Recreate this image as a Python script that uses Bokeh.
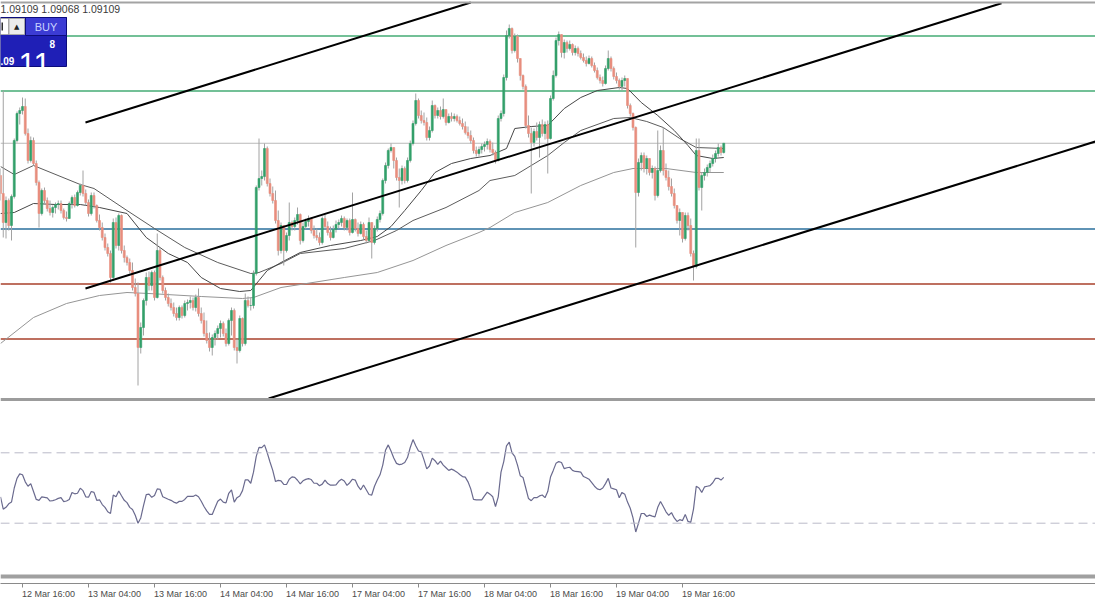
from bokeh.plotting import figure
from bokeh.models import Range1d, Span, Label, FixedTicker, ColumnDataSource, LinearAxis
from bokeh.embed import file_html
from bokeh.resources import INLINE

# ---------------- data (EURUSD M30, bar index 0 = 12 Mar 04:00) ----------------
first_bar = 16
first_open = 1.08980

closes = [
1.08908, 1.08792, 1.08880, 1.08780, 1.08896, 1.09120, 1.09228, 1.09240, 1.09256, 1.09148,
1.09040, 1.09120, 1.09028, 1.08952, 1.08828, 1.08920, 1.08880, 1.08848, 1.08832, 1.08852,
1.08864, 1.08868, 1.08840, 1.08812, 1.08808, 1.08868, 1.08892, 1.08860, 1.08912, 1.08940,
1.08908, 1.08872, 1.08828, 1.08900, 1.08860, 1.08800, 1.08772, 1.08732, 1.08692, 1.08668,
1.08572, 1.08792, 1.08700, 1.08820, 1.08680, 1.08652, 1.08632, 1.08600, 1.08532, 1.08508,
1.08292, 1.08372, 1.08480, 1.08572, 1.08540, 1.08592, 1.08492, 1.08680, 1.08572, 1.08520,
1.08492, 1.08468, 1.08452, 1.08428, 1.08412, 1.08452, 1.08420, 1.08468, 1.08472, 1.08480,
1.08452, 1.08492, 1.08428, 1.08400, 1.08348, 1.08320, 1.08292, 1.08332, 1.08348, 1.08368,
1.08388, 1.08348, 1.08308, 1.08400, 1.08440, 1.08292, 1.08280, 1.08408, 1.08308, 1.08480,
1.08460, 1.08460, 1.08588, 1.08932, 1.08968, 1.08976, 1.09088, 1.08948, 1.08908, 1.08880,
1.08800, 1.08680, 1.08780, 1.08680, 1.08740, 1.08792, 1.08776, 1.08800, 1.08824, 1.08720,
1.08776, 1.08796, 1.08808, 1.08760, 1.08740, 1.08732, 1.08712, 1.08808, 1.08776, 1.08752,
1.08732, 1.08764, 1.08784, 1.08792, 1.08808, 1.08772, 1.08800, 1.08752, 1.08804, 1.08768,
1.08748, 1.08784, 1.08736, 1.08720, 1.08792, 1.08712, 1.08768, 1.08804, 1.08828, 1.08960,
1.09020, 1.09080, 1.09092, 1.09040, 1.08972, 1.08960, 1.09008, 1.08960, 1.09040, 1.09108,
1.09188, 1.09280, 1.09220, 1.09200, 1.09192, 1.09132, 1.09160, 1.09260, 1.09220, 1.09240,
1.09216, 1.09244, 1.09192, 1.09216, 1.09208, 1.09216, 1.09200, 1.09188, 1.09176, 1.09152,
1.09140, 1.09120, 1.09080, 1.09068, 1.09084, 1.09096, 1.09104, 1.09116, 1.09084, 1.09072,
1.09040, 1.09208, 1.09228, 1.09372, 1.09540, 1.09568, 1.09480, 1.09536, 1.09448, 1.09380,
1.09336, 1.09180, 1.09148, 1.09112, 1.09156, 1.09132, 1.09184, 1.09148, 1.09184, 1.09128,
1.09288, 1.09380, 1.09520, 1.09544, 1.09472, 1.09512, 1.09488, 1.09504, 1.09472, 1.09488,
1.09468, 1.09452, 1.09440, 1.09428, 1.09448, 1.09420, 1.09400, 1.09372, 1.09360, 1.09348,
1.09408, 1.09448, 1.09408, 1.09376, 1.09360, 1.09336, 1.09360, 1.09368, 1.09260, 1.09228,
1.09172, 1.08912, 1.09032, 1.09060, 1.09008, 1.09048, 1.08992, 1.09008, 1.08900, 1.09000,
1.09080, 1.09000, 1.08972, 1.08936, 1.08908, 1.08860, 1.08800, 1.08832, 1.08728, 1.08820,
1.08780, 1.08668, 1.08616, 1.09080, 1.08932, 1.08980, 1.08992, 1.09012, 1.09028, 1.09048,
1.09068, 1.09092, 1.09072, 1.09109]

highs = [
1.09008, 1.09320, 1.08896, 1.08888, 1.08904, 1.09128, 1.09236, 1.09252, 1.09292, 1.09288,
1.09168, 1.09136, 1.09132, 1.09040, 1.08960, 1.08928, 1.08932, 1.08892, 1.08880, 1.08860,
1.08872, 1.08880, 1.08880, 1.08848, 1.08836, 1.08876, 1.08900, 1.08904, 1.08920, 1.08948,
1.09000, 1.08924, 1.08884, 1.08912, 1.08912, 1.08864, 1.08824, 1.08792, 1.08748, 1.08708,
1.08680, 1.08808, 1.08812, 1.08828, 1.08824, 1.08700, 1.08660, 1.08648, 1.08632, 1.08568,
1.08552, 1.08392, 1.08488, 1.08592, 1.08596, 1.08600, 1.08600, 1.08748, 1.08692, 1.08580,
1.08532, 1.08508, 1.08488, 1.08472, 1.08452, 1.08460, 1.08460, 1.08480, 1.08484, 1.08496,
1.08492, 1.08504, 1.08528, 1.08452, 1.08432, 1.08400, 1.08352, 1.08344, 1.08360, 1.08380,
1.08400, 1.08396, 1.08368, 1.08408, 1.08452, 1.08448, 1.08328, 1.08420, 1.08412, 1.08508,
1.08496, 1.08492, 1.08600, 1.08940, 1.09128, 1.09000, 1.09108, 1.09096, 1.08968, 1.08936,
1.08920, 1.08840, 1.08792, 1.08780, 1.08752, 1.08872, 1.08800, 1.08812, 1.08852, 1.08828,
1.08792, 1.08808, 1.08820, 1.08812, 1.08780, 1.08768, 1.08752, 1.08816, 1.08824, 1.08796,
1.08776, 1.08780, 1.08800, 1.08804, 1.08820, 1.08816, 1.08808, 1.08808, 1.08912, 1.08808,
1.08792, 1.08796, 1.08792, 1.08760, 1.08812, 1.08792, 1.08780, 1.08816, 1.08840, 1.08968,
1.09032, 1.09088, 1.09108, 1.09092, 1.09052, 1.09008, 1.09020, 1.09016, 1.09052, 1.09120,
1.09200, 1.09308, 1.09288, 1.09240, 1.09232, 1.09212, 1.09176, 1.09280, 1.09264, 1.09252,
1.09256, 1.09288, 1.09240, 1.09228, 1.09232, 1.09228, 1.09224, 1.09216, 1.09208, 1.09196,
1.09176, 1.09160, 1.09132, 1.09096, 1.09096, 1.09108, 1.09116, 1.09128, 1.09124, 1.09112,
1.09080, 1.09220, 1.09240, 1.09384, 1.09560, 1.09584, 1.09572, 1.09548, 1.09544, 1.09448,
1.09384, 1.09344, 1.09220, 1.09172, 1.09168, 1.09192, 1.09196, 1.09204, 1.09196, 1.09200,
1.09300, 1.09400, 1.09532, 1.09556, 1.09544, 1.09524, 1.09520, 1.09520, 1.09508, 1.09500,
1.09496, 1.09480, 1.09468, 1.09456, 1.09460, 1.09456, 1.09432, 1.09412, 1.09384, 1.09376,
1.09420, 1.09480, 1.09456, 1.09416, 1.09392, 1.09368, 1.09372, 1.09380, 1.09368, 1.09268,
1.09232, 1.09176, 1.09048, 1.09072, 1.09072, 1.09060, 1.09048, 1.09020, 1.09016, 1.09160,
1.09100, 1.09172, 1.09028, 1.09000, 1.08968, 1.08928, 1.08860, 1.08848, 1.08832, 1.08832,
1.08832, 1.08808, 1.08680, 1.09128, 1.09128, 1.08992, 1.09008, 1.09024, 1.09040, 1.09064,
1.09080, 1.09108, 1.09100, 1.09109]

lows = [
1.08880, 1.08732, 1.08728, 1.08760, 1.08720, 1.08888, 1.09112, 1.09184, 1.09224, 1.09140,
1.09028, 1.09032, 1.09020, 1.08940, 1.08772, 1.08820, 1.08868, 1.08836, 1.08820, 1.08812,
1.08828, 1.08844, 1.08828, 1.08804, 1.08796, 1.08808, 1.08848, 1.08852, 1.08856, 1.08900,
1.08896, 1.08860, 1.08816, 1.08820, 1.08848, 1.08792, 1.08760, 1.08720, 1.08680, 1.08656,
1.08552, 1.08560, 1.08688, 1.08680, 1.08668, 1.08632, 1.08620, 1.08588, 1.08520, 1.08496,
1.08140, 1.08268, 1.08340, 1.08460, 1.08520, 1.08520, 1.08480, 1.08488, 1.08560, 1.08508,
1.08480, 1.08456, 1.08440, 1.08416, 1.08400, 1.08400, 1.08408, 1.08412, 1.08440, 1.08448,
1.08440, 1.08436, 1.08416, 1.08388, 1.08336, 1.08308, 1.08276, 1.08260, 1.08300, 1.08324,
1.08332, 1.08336, 1.08296, 1.08300, 1.08340, 1.08280, 1.08228, 1.08272, 1.08296, 1.08300,
1.08452, 1.08440, 1.08448, 1.08580, 1.08920, 1.08940, 1.08960, 1.08936, 1.08896, 1.08868,
1.08788, 1.08660, 1.08668, 1.08620, 1.08672, 1.08720, 1.08760, 1.08760, 1.08784, 1.08704,
1.08712, 1.08764, 1.08776, 1.08748, 1.08728, 1.08720, 1.08700, 1.08704, 1.08764, 1.08740,
1.08720, 1.08728, 1.08752, 1.08768, 1.08776, 1.08760, 1.08760, 1.08740, 1.08748, 1.08756,
1.08736, 1.08744, 1.08724, 1.08708, 1.08716, 1.08648, 1.08704, 1.08756, 1.08792, 1.08820,
1.08948, 1.09008, 1.09072, 1.09008, 1.08960, 1.08852, 1.08944, 1.08948, 1.08952, 1.09032,
1.09100, 1.09180, 1.09208, 1.09188, 1.09180, 1.09120, 1.09120, 1.09152, 1.09208, 1.09208,
1.09204, 1.09208, 1.09180, 1.09188, 1.09196, 1.09196, 1.09192, 1.09180, 1.09164, 1.09144,
1.09128, 1.09108, 1.09068, 1.09056, 1.09056, 1.09068, 1.09076, 1.09084, 1.09072, 1.09060,
1.09028, 1.09036, 1.09196, 1.09216, 1.09360, 1.09528, 1.09468, 1.09472, 1.09432, 1.09360,
1.09324, 1.09168, 1.09132, 1.08908, 1.09096, 1.09120, 1.09052, 1.09136, 1.09124, 1.08988,
1.09124, 1.09280, 1.09372, 1.09500, 1.09452, 1.09448, 1.09472, 1.09480, 1.09460, 1.09460,
1.09456, 1.09444, 1.09432, 1.09416, 1.09424, 1.09412, 1.09392, 1.09364, 1.09348, 1.09336,
1.09344, 1.09400, 1.09396, 1.09364, 1.09348, 1.09324, 1.09320, 1.09336, 1.09248, 1.09216,
1.09160, 1.08692, 1.08896, 1.09000, 1.08992, 1.08984, 1.08980, 1.08968, 1.08880, 1.08892,
1.08992, 1.08980, 1.08960, 1.08920, 1.08896, 1.08848, 1.08788, 1.08740, 1.08712, 1.08720,
1.08760, 1.08656, 1.08560, 1.08608, 1.08920, 1.08840, 1.08960, 1.08976, 1.08992, 1.09016,
1.09032, 1.09056, 1.09060, 1.09068]

rsi = [
45, 38, 39, 41, 42, 50, 55.5, 58, 57.5, 53.5,
51, 52.5, 48, 43.5, 43, 45, 44.7, 44.4, 42.6, 42.8,
43.3, 44.1, 44.5, 42.3, 42.6, 43.5, 47.4, 46.7, 47, 49.9,
48.5, 45, 44.8, 48, 47.5, 43, 43.3, 40.6, 39, 36.5,
35.5, 46, 45, 48.3, 45.6, 43, 41.7, 39, 37.8, 34.5,
30, 33, 40, 46.2, 46.5, 44.7, 45.7, 49.5, 49.3, 45,
44.3, 43.6, 43, 42, 41.4, 42.4, 42.4, 43.5, 45.2, 45.2,
45.2, 46, 45, 42.5, 39.5, 37, 35, 35, 38.8, 42.5,
43.7, 42, 41.5, 47, 49, 42, 44.5, 45.5, 48.5, 54.6,
54.6, 52.7, 59, 68, 73.1, 72.9, 74.5, 70, 64.8, 60,
53.7, 54.3, 54, 52, 52, 55, 56.3, 56, 54.4, 52.3,
54.1, 54.9, 55.3, 54.8, 52.7, 52.7, 51.3, 52.2, 54.5, 52.5,
51.6, 51.6, 51.8, 53.8, 55, 54, 51.5, 53, 55, 54.5,
51, 49, 51.7, 49, 46.3, 46, 51, 54.5, 57.5, 63,
71.4, 74.5, 71, 67, 64, 63.3, 63.6, 64.5, 67.3, 73,
77.5, 74, 71, 70.5, 66, 60.9, 62.5, 67, 65.5, 63.4,
65.3, 63, 61.5, 60, 60.7, 60, 59, 57.7, 56.5, 56.2,
53.5, 49.5, 43.5, 43.3, 43.3, 43.3, 45.5, 47.6, 46.5, 45,
39.5, 45, 59, 65, 74, 76, 70, 68, 63, 57,
56, 50, 44, 42.8, 44.5, 44.5, 45.5, 46, 44.5, 48,
56.2, 60, 64, 65, 64.5, 61, 61.5, 61.8, 60, 59.4,
59.3, 59, 56.5, 55.8, 55, 53, 51, 49.5, 49, 50,
52.5, 55.5, 50, 49.5, 49, 44.5, 47.5, 46.5, 42, 38.5,
33, 25, 30, 35.5, 35.5, 33.8, 34.6, 34, 33.6, 39,
42.3, 39.5, 36.5, 34.5, 36, 33, 31, 32, 31.5, 35,
31, 30.5, 38, 51, 50, 47.5, 50.6, 51, 51.3, 53,
55.5, 55.5, 54.5, 56]

ma_fast_bars = [16, 21, 28, 36, 45, 52, 62, 69, 77, 84, 89, 96, 103, 107, 110, 113, 118, 125,
                136, 147, 153, 158, 163, 169, 174, 180, 187, 194, 200, 203, 209, 215, 221, 227,
                233, 241, 244, 249, 255, 261, 266, 269, 275, 279]
ma_fast = [1.08828, 1.08832, 1.08868, 1.08864, 1.08864, 1.08852, 1.08828, 1.08732, 1.08668,
           1.08632, 1.08572, 1.08528, 1.08516, 1.08520, 1.08560, 1.08600, 1.08632, 1.08672,
           1.08700, 1.08720, 1.08736, 1.08776, 1.08840, 1.08920, 1.08992, 1.09028, 1.09048,
           1.09060, 1.09088, 1.09168, 1.09176, 1.09180, 1.09248, 1.09292, 1.09320, 1.09332,
           1.09328, 1.09272, 1.09220, 1.09160, 1.09100, 1.09060, 1.09048, 1.09052]

ma_mid_bars = [16, 21, 28, 45, 50, 62, 72, 83, 95, 107, 110, 118, 125, 141, 152, 160, 166,
               178, 190, 194, 203, 215, 221, 227, 239, 245, 251, 257, 263, 269, 279]
ma_mid = [1.09016, 1.08984, 1.09020, 1.08944, 1.08928, 1.08840, 1.08768, 1.08692, 1.08632,
          1.08588, 1.08592, 1.08628, 1.08668, 1.08688, 1.08720, 1.08760, 1.08800, 1.08852,
          1.08920, 1.08960, 1.08980, 1.09060, 1.09112, 1.09160, 1.09208, 1.09212, 1.09196,
          1.09172, 1.09128, 1.09092, 1.09088]

ma_slow_bars = [16, 28, 40, 52, 62, 70, 89, 104, 108, 118, 125, 141, 153, 166, 178, 190, 194,
                203, 215, 227, 239, 246, 258, 269, 279]
ma_slow = [1.08308, 1.08412, 1.08468, 1.08500, 1.08512, 1.08508, 1.08496, 1.08488, 1.08492,
           1.08532, 1.08544, 1.08572, 1.08592, 1.08640, 1.08700, 1.08752, 1.08772, 1.08832,
           1.08872, 1.08940, 1.08992, 1.09008, 1.09008, 1.08992, 1.08992]

# channel trend lines (bar, price)
tl_upper_bars, tl_upper = [46.9, 187.0], [1.09192, 1.09672]
tl_mid_bars, tl_mid = [46.9, 380.0], [1.08528, 1.09669]
tl_low_bars, tl_low = [113.5, 414.2], [1.08088, 1.09116]

# horizontal levels
green_levels = [1.09538, 1.09318]
bid_price = 1.09109
blue_levels = [1.08766]
red_levels = [1.08546, 1.08326]
rsi_levels = [70, 30]

tick_bars = [24, 48, 72, 96, 120, 144, 168, 192, 216, 240, 264]
tick_labels = ["12 Mar 16:00", "13 Mar 04:00", "13 Mar 16:00", "14 Mar 04:00", "14 Mar 16:00",
               "17 Mar 04:00", "17 Mar 16:00", "18 Mar 04:00", "18 Mar 16:00", "19 Mar 04:00",
               "19 Mar 16:00"]

header_text = "1.09109 1.09068 1.09109"

# ---------------- figure ----------------
n = min(len(closes), len(highs), len(lows), len(rsi))
closes, highs, lows, rsi = closes[:n], highs[:n], lows[:n], rsi[:n]
bars = list(range(first_bar, first_bar + n))
opens = [first_open] + closes[:-1]

UP, DOWN = "#33a06a", "#e88e7e"
src = ColumnDataSource(dict(
    bar=bars, high=highs, low=lows,
    top=[max(o, c) for o, c in zip(opens, closes)],
    bottom=[min(o, c) for o, c in zip(opens, closes)],
    color=[UP if c >= o else DOWN for o, c in zip(opens, closes)],
))

p = figure(frame_width=1095, frame_height=583,
           x_range=Range1d(16, 414.1818), y_range=Range1d(1.07348, 1.0968),
           output_backend="svg", toolbar_location=None,
           x_axis_location=None, y_axis_location=None,
           min_border=0, min_border_left=0, min_border_right=0, min_border_top=0,
           min_border_bottom=0,
           background_fill_color="white", border_fill_color="white",
           outline_line_color=None)
p.extra_y_ranges = {"rsi": Range1d(-4.2614, 326.99)}
p.grid.visible = False

# time axis: tick marks at the bar, label starting at the tick (MT4 style)
tick_axis = LinearAxis(ticker=FixedTicker(ticks=tick_bars, minor_ticks=[]),
                       major_label_text_font_size="1px", major_label_text_alpha=0,
                       major_label_standoff=0, major_tick_out=4, major_tick_in=0,
                       axis_line_color="#8a8a8a", major_tick_line_color="#8a8a8a",
                       minor_tick_line_color=None)
label_shift = 9.5  # half a label width, in bars
label_ticks = [b + label_shift for b in tick_bars]
label_axis = LinearAxis(ticker=FixedTicker(ticks=label_ticks, minor_ticks=[]),
                        major_label_overrides={t: s for t, s in zip(label_ticks, tick_labels)},
                        major_label_text_font="Liberation Sans", major_label_text_font_size="9px",
                        major_label_text_color="#4a4a4a", major_label_standoff=1,
                        major_tick_out=0, major_tick_in=0, axis_line_color=None,
                        major_tick_line_color=None, minor_tick_line_color=None)
p.add_layout(tick_axis, "below")
p.add_layout(label_axis, "below")

# horizontal level lines
for lv in green_levels:
    p.add_layout(Span(location=lv, dimension="width", line_color="#45ab74", line_width=1.3, level="underlay"))
p.add_layout(Span(location=bid_price, dimension="width", line_color="#b9b9b9", line_width=1, level="underlay"))
for lv in blue_levels:
    p.add_layout(Span(location=lv, dimension="width", line_color="#2a6f9c", line_width=1.6, level="underlay"))
for lv in red_levels:
    p.add_layout(Span(location=lv, dimension="width", line_color="#a8412b", line_width=1.4, level="underlay"))

# moving averages
p.line(ma_slow_bars, ma_slow, line_color="#959595", line_width=1)
p.line(ma_mid_bars, ma_mid, line_color="#5c5c5c", line_width=1)
p.line(ma_fast_bars, ma_fast, line_color="#474747", line_width=1)

# candles
p.segment(x0="bar", y0="low", x1="bar", y1="high", source=src, line_color="#a2a2a2", line_width=1)
p.vbar(x="bar", width=0.72, top="top", bottom="bottom", source=src,
       fill_color="color", line_color="color", line_width=0.6)

# channel
for xs, ys in ((tl_upper_bars, tl_upper), (tl_mid_bars, tl_mid), (tl_low_bars, tl_low)):
    p.line(xs, ys, line_color="black", line_width=2)

# window borders / panel separators
p.add_layout(Span(location=1.09672, dimension="width", line_color="#a3a3a3", line_width=2))
p.add_layout(Span(location=1.08084, dimension="width", line_color="#9c9c9c", line_width=3))
p.add_layout(Span(location=-0.3, dimension="width", y_range_name="rsi", line_color="#a0a0a0", line_width=4))

# RSI
for lv in rsi_levels:
    p.add_layout(Span(location=lv, dimension="width", y_range_name="rsi", line_color="#babac8",
                      line_dash="9 5", line_width=1))
p.line(bars, rsi, y_range_name="rsi", line_color="#6a6a8e", line_width=1.2)

# ---------------- one-click trading panel & header (screen decorations) ----------------
def X(px):
    return (px + 44) / 2.75

def Y(py):
    return 1.0968 - 0.00004 * py

p.quad(left=[X(0)], right=[X(66)], top=[Y(17)], bottom=[Y(66)],
       fill_color="#1f1fb6", line_color="#0c0c7c", line_width=1)
p.quad(left=[X(25)], right=[X(66)], top=[Y(17)], bottom=[Y(35)],
       fill_color="#3b3bd4", line_color="#0c0c7c", line_width=1)
p.quad(left=[X(0)], right=[X(8)], top=[Y(18)], bottom=[Y(34)],
       fill_color="#ffffff", line_color="#a8a8a8", line_width=1)
p.quad(left=[X(1)], right=[X(2.5)], top=[Y(22)], bottom=[Y(30)],
       fill_color="#303030", line_color=None)
p.quad(left=[X(8.5)], right=[X(24)], top=[Y(18)], bottom=[Y(34)],
       fill_color="#ececec", line_color="#a8a8a8", line_width=1)

p.add_layout(Label(x=X(45.5), y=Y(26.5), text="BUY", text_align="center", text_baseline="middle",
                   text_font="Liberation Sans", text_font_size="11px", text_color="#c8d2ff"))
p.add_layout(Label(x=X(16.2), y=Y(26.5), text="\u25b2", text_align="center", text_baseline="middle",
                   text_font="DejaVu Sans", text_font_size="7px", text_color="#222222"))
p.add_layout(Label(x=X(0), y=Y(60), text=".09", text_baseline="alphabetic",
                   text_font="Liberation Sans", text_font_size="10px", text_font_style="bold",
                   text_color="white"))
p.add_layout(Label(x=X(18), y=Y(63), text="11", text_baseline="alphabetic",
                   text_font="Liberation Sans", text_font_size="31px", text_color="white"))
p.add_layout(Label(x=X(49), y=Y(39.5), text="8", text_baseline="top",
                   text_font="Liberation Sans", text_font_size="10px", text_font_style="bold",
                   text_color="white"))
p.add_layout(Label(x=X(0), y=Y(2.5), text=header_text, text_baseline="top",
                   text_font="Liberation Sans", text_font_size="10.5px", text_color="#3a3a3a"))

open("out.html", "w").write(file_html(p, INLINE))
